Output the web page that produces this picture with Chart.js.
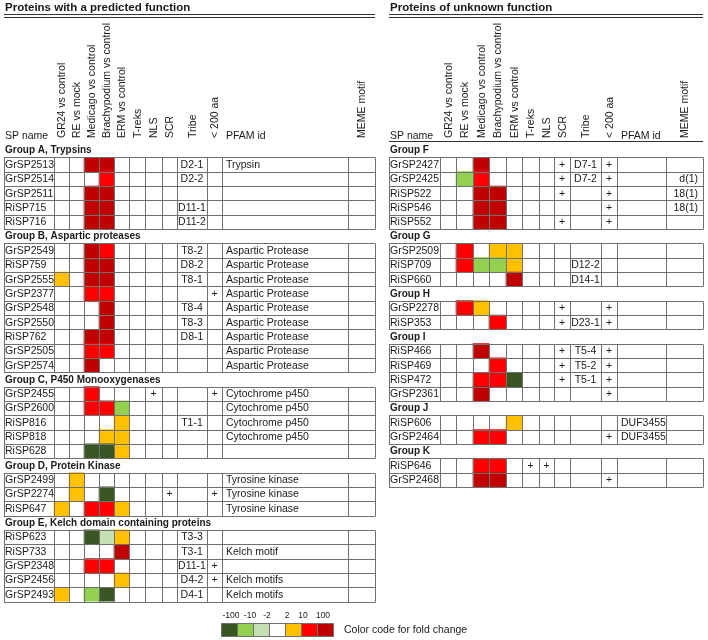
<!DOCTYPE html>
<html>
<head>
<meta charset="utf-8">
<script src="https://cdn.jsdelivr.net/npm/chart.js@4.4.1/dist/chart.umd.min.js"></script>
<style>
    html, body { margin: 0; padding: 0; background: #fff; }
    #wrap { position: relative; width: 708px; height: 640px; }
</style>
</head>
<body>
<div id="wrap"><canvas id="chart" width="708" height="640"></canvas></div>
<script>
// fold change classes: -3 <= -100, -2 = -10..-100, -1 = -2..-10, 0 none, 1 = 2..10, 2 = 10..100, 3 >= 100
const columnLabels = ['GR24 vs control', 'RE vs mock', 'Medicago vs control', 'Brachypodium vs control', 'ERM vs control', 'T-reks', 'NLS', 'SCR', 'Tribe', '< 200 aa'];
const legendLabels = ['-100', '-10', '-2', '2', '10', '100'];
const legendClasses = [-3, -2, -1, 0, 1, 2, 3];

// left table: proteins with a predicted function
const leftGroups = ['Group A, Trypsins', 'Group B, Aspartic proteases', 'Group C, P450 Monooxygenases', 'Group D, Protein Kinase', 'Group E, Kelch domain containing proteins'];
const leftGroupSizes = [5, 9, 5, 3, 5];
const leftNames = ['GrSP2513', 'GrSP2514', 'GrSP2511', 'RiSP715', 'RiSP716',
    'GrSP2549', 'RiSP759', 'GrSP2555', 'GrSP2377', 'GrSP2548', 'GrSP2550', 'RiSP762', 'GrSP2505', 'GrSP2574',
    'GrSP2455', 'GrSP2600', 'RiSP816', 'RiSP818', 'RiSP628',
    'GrSP2499', 'GrSP2274', 'RiSP647',
    'RiSP623', 'RiSP733', 'GrSP2348', 'GrSP2456', 'GrSP2493'];
const leftGR24 = [0, 0, 0, 0, 0, 0, 0, 1, 0, 0, 0, 0, 0, 0, 0, 0, 0, 0, 0, 0, 0, 1, 0, 0, 0, 0, 1];
const leftRE = [0, 0, 0, 0, 0, 0, 0, 0, 0, 0, 0, 0, 0, 0, 0, 0, 0, 0, 0, 1, 1, 0, 0, 0, 0, 0, 0];
const leftMedicago = [3, 0, 3, 3, 3, 3, 3, 3, 2, 0, 0, 3, 2, 3, 2, 2, 0, 0, -3, 0, 0, 2, -3, 0, 2, 0, -2];
const leftBrachy = [3, 2, 3, 3, 3, 2, 3, 3, 2, 3, 3, 3, 2, 0, 0, 2, 0, 1, -3, 0, -3, 2, -1, 0, 2, 0, -3];
const leftERM = [0, 0, 0, 0, 0, 0, 0, 0, 0, 0, 0, 0, 0, 0, 0, -2, 1, 1, 1, 0, 0, 1, 1, 3, 0, 1, 0];
const leftTreks = [0, 0, 0, 0, 0, 0, 0, 0, 0, 0, 0, 0, 0, 0, 0, 0, 0, 0, 0, 0, 0, 0, 0, 0, 0, 0, 0];
const leftNLS = [0, 0, 0, 0, 0, 0, 0, 0, 0, 0, 0, 0, 0, 0, 1, 0, 0, 0, 0, 0, 0, 0, 0, 0, 0, 0, 0];
const leftSCR = [0, 0, 0, 0, 0, 0, 0, 0, 0, 0, 0, 0, 0, 0, 0, 0, 0, 0, 0, 0, 1, 0, 0, 0, 0, 0, 0];
const leftShort = [0, 0, 0, 0, 0, 0, 0, 0, 1, 0, 0, 0, 0, 0, 1, 0, 0, 0, 0, 0, 1, 0, 0, 0, 1, 1, 0];
const leftTribe = ['D2-1', 'D2-2', '', 'D11-1', 'D11-2', 'T8-2', 'D8-2', 'T8-1', '', 'T8-4', 'T8-3', 'D8-1', '', '',
    '', '', 'T1-1', '', '', '', '', '', 'T3-3', 'T3-1', 'D11-1', 'D4-2', 'D4-1'];
const leftPfam = ['Trypsin', '', '', '', '',
    'Aspartic Protease', 'Aspartic Protease', 'Aspartic Protease', 'Aspartic Protease', 'Aspartic Protease',
    'Aspartic Protease', 'Aspartic Protease', 'Aspartic Protease', 'Aspartic Protease',
    'Cytochrome p450', 'Cytochrome p450', 'Cytochrome p450', 'Cytochrome p450', '',
    'Tyrosine kinase', 'Tyrosine kinase', 'Tyrosine kinase',
    '', 'Kelch motif', '', 'Kelch motifs', 'Kelch motifs'];
const leftMeme = [];

// right table: proteins of unknown function
const rightGroups = ['Group F', 'Group G', 'Group H', 'Group I', 'Group J', 'Group K'];
const rightGroupSizes = [5, 3, 2, 4, 2, 2];
const rightNames = ['GrSP2427', 'GrSP2425', 'RiSP522', 'RiSP546', 'RiSP552',
    'GrSP2509', 'RiSP709', 'RiSP660', 'GrSP2278', 'RiSP353',
    'RiSP466', 'RiSP469', 'RiSP472', 'GrSP2361', 'RiSP606', 'GrSP2464', 'RiSP646', 'GrSP2468'];
const rightGR24 = [0, 0, 0, 0, 0, 0, 0, 0, 0, 0, 0, 0, 0, 0, 0, 0, 0, 0];
const rightRE = [0, -2, 0, 0, 0, 2, 2, 0, 2, 0, 0, 0, 0, 0, 0, 0, 0, 0];
const rightMedicago = [3, 2, 3, 3, 3, 0, -2, 0, 1, 0, 3, 0, 2, 3, 0, 2, 2, 3];
const rightBrachy = [0, 0, 3, 3, 3, 1, -2, 0, 0, 2, 0, 2, 2, 0, 0, 2, 2, 3];
const rightERM = [0, 0, 0, 0, 0, 1, 1, 3, 0, 0, 0, 0, -3, 0, 1, 0, 0, 0];
const rightTreks = [0, 0, 0, 0, 0, 0, 0, 0, 0, 0, 0, 0, 0, 0, 0, 0, 1, 0];
const rightNLS = [0, 0, 0, 0, 0, 0, 0, 0, 0, 0, 0, 0, 0, 0, 0, 0, 1, 0];
const rightSCR = [1, 1, 1, 0, 1, 0, 0, 0, 1, 1, 1, 1, 1, 0, 0, 0, 0, 0];
const rightShort = [1, 1, 1, 1, 1, 0, 0, 0, 1, 1, 1, 1, 1, 1, 0, 1, 0, 1];
const rightTribe = ['D7-1', 'D7-2', '', '', '', '', 'D12-2', 'D14-1', '', 'D23-1', 'T5-4', 'T5-2', 'T5-1', '', '', '', '', ''];
const rightPfam = ['', '', '', '', '', '', '', '', '', '', '', '', '', '', 'DUF3455', 'DUF3455', '', ''];
const rightMeme = ['', 'd(1)', '18(1)', '18(1)', '', '', '', '', '', '', '', '', '', '', '', '', '', ''];

// layout
const FC_COLORS = { '-3': '#385723', '-2': '#92d050', '-1': '#c6e0b4', '0': '#ffffff', '1': '#ffc000', '2': '#ff0000', '3': '#c00000' };
const LEFT_EDGES = [4, 54, 69, 84, 99, 114, 129, 145, 162, 177, 207, 222, 348, 375];
const RIGHT_EDGES = [389, 440, 456, 473, 489, 506, 522, 539, 554, 570, 601, 617, 666, 703];
const ROW_TOP = 143;
const ROW_H = 14.33;
const N_ROWS = 32;
const FONT = '"Liberation Sans", Arial, sans-serif';
const LINE = '#707070';
const TEXT = '#1a1a1a';

function buildRows(groups, sizes) {
    const rows = [];
    let p = 0;
    groups.forEach((g, gi) => {
        rows.push({ group: g });
        for (let i = 0; i < sizes[gi]; i++) rows.push({ protein: p++ });
    });
    return rows;
}

const tables = [
    {
        title: 'Proteins with a predicted function', headerLine: false, edges: LEFT_EDGES,
        rows: buildRows(leftGroups, leftGroupSizes), names: leftNames,
        fc: [leftGR24, leftRE, leftMedicago, leftBrachy, leftERM],
        flags: [leftTreks, leftNLS, leftSCR], short: leftShort,
        tribe: leftTribe, pfam: leftPfam, meme: leftMeme
    },
    {
        title: 'Proteins of unknown function', headerLine: true, edges: RIGHT_EDGES,
        rows: buildRows(rightGroups, rightGroupSizes), names: rightNames,
        fc: [rightGR24, rightRE, rightMedicago, rightBrachy, rightERM],
        flags: [rightTreks, rightNLS, rightSCR], short: rightShort,
        tribe: rightTribe, pfam: rightPfam, meme: rightMeme
    }
];

const datasets = [];
tables.forEach(t => {
    t.fc.forEach((vals, k) => {
        const data = [], colors = [];
        for (let r = 0; r < N_ROWS; r++) {
            const row = t.rows[r];
            const v = row && row.protein !== undefined ? vals[row.protein] : 0;
            data.push(v ? [t.edges[k + 1], t.edges[k + 2]] : null);
            colors.push(FC_COLORS[v]);
        }
        datasets.push({ data, backgroundColor: colors, borderWidth: 0, categoryPercentage: 1, barPercentage: 1, grouped: false });
    });
});

const crisp = v => Math.round(v) + 0.5;

function hline(ctx, x0, x1, yy) {
    ctx.beginPath(); ctx.moveTo(x0, crisp(yy)); ctx.lineTo(x1, crisp(yy)); ctx.stroke();
}
function vline(ctx, xx, y0, y1) {
    ctx.beginPath(); ctx.moveTo(crisp(xx), y0); ctx.lineTo(crisp(xx), y1); ctx.stroke();
}

const tablePlugin = {
    id: 'tableText',
    afterDatasetsDraw(chart) {
        const { ctx, scales: { x, y } } = chart;
        const h = y.getPixelForValue(1) - y.getPixelForValue(0);
        const px = v => x.getPixelForValue(v);
        ctx.save();
        ctx.fillStyle = TEXT;
        ctx.strokeStyle = LINE;
        ctx.lineWidth = 1;

        tables.forEach(t => {
            const e = t.edges;
            const left = px(e[0]), right = px(e[e.length - 1]);
            const cx = c => (px(e[c]) + px(e[c + 1])) / 2;

            // title and double rule
            ctx.font = 'bold 11.5px ' + FONT;
            ctx.textAlign = 'left';
            ctx.textBaseline = 'alphabetic';
            ctx.fillText(t.title, left + 1, 11);
            ctx.strokeStyle = '#333';
            hline(ctx, left, right, 14);
            hline(ctx, left, right, 17);
            ctx.strokeStyle = LINE;

            // column headers
            ctx.font = '10.5px ' + FONT;
            ctx.fillText('SP name', left + 1, 139);
            ctx.fillText('PFAM id', px(e[11]) + 4, 139);
            const rotated = columnLabels.map((l, i) => [l, i + 1]).concat([['MEME motif', 12]]);
            rotated.forEach(([label, c]) => {
                ctx.save();
                ctx.translate(cx(c) + 1, 138);
                ctx.rotate(-Math.PI / 2);
                ctx.textBaseline = 'middle';
                ctx.fillText(label, 0, 0);
                ctx.restore();
            });
            if (t.headerLine) {
                ctx.strokeStyle = '#333';
                hline(ctx, left, right, 141);
                ctx.strokeStyle = LINE;
            }

            // rows
            let blockStart = -1;
            const drawBlock = (r0, r1) => {
                const top = y.getPixelForValue(r0) - h / 2;
                const bottom = y.getPixelForValue(r1 - 1) + h / 2;
                for (let r = r0; r <= r1; r++) hline(ctx, left, right, top + (r - r0) * h);
                e.forEach(v => vline(ctx, px(v), crisp(top), crisp(bottom)));
            };
            t.rows.forEach((row, r) => {
                const yc = y.getPixelForValue(r) + 0.5;
                ctx.textBaseline = 'middle';
                if (row.group !== undefined) {
                    if (blockStart >= 0) { drawBlock(blockStart, r); blockStart = -1; }
                    ctx.font = 'bold 10px ' + FONT;
                    ctx.textAlign = 'left';
                    ctx.fillText(row.group, left + 1, yc);
                    return;
                }
                if (blockStart < 0) blockStart = r;
                const p = row.protein;
                ctx.font = '10.5px ' + FONT;
                ctx.textAlign = 'left';
                ctx.fillText(t.names[p], left + 1, yc);
                ctx.textAlign = 'center';
                t.flags.forEach((arr, i) => { if (arr[p]) ctx.fillText('+', cx(6 + i), yc); });
                if (t.short[p]) ctx.fillText('+', cx(10), yc);
                if (t.tribe[p]) ctx.fillText(t.tribe[p], cx(9), yc);
                ctx.textAlign = 'left';
                if (t.pfam[p]) ctx.fillText(t.pfam[p], px(e[11]) + 4, yc);
                ctx.textAlign = 'right';
                if (t.meme[p]) ctx.fillText(t.meme[p], px(e[13]) - 5, yc);
            });
            if (blockStart >= 0) drawBlock(blockStart, t.rows.length);
        });

        // colour key
        const kx = 221, kw = 16, ky = 623, kh = 13;
        legendClasses.forEach((c, i) => {
            ctx.fillStyle = FC_COLORS[c];
            ctx.fillRect(kx + i * kw, ky, kw, kh);
            ctx.strokeRect(kx + i * kw + 0.5, ky + 0.5, kw, kh);
        });
        const labelX = [231, 250, 267, 287, 303, 323];
        ctx.fillStyle = TEXT;
        ctx.font = '8.5px ' + FONT;
        ctx.textAlign = 'center';
        ctx.textBaseline = 'middle';
        legendLabels.forEach((l, i) => ctx.fillText(l, labelX[i], 616));
        ctx.font = '10.5px ' + FONT;
        ctx.textAlign = 'left';
        ctx.fillText('Color code for fold change', 344, 630);
        ctx.restore();
    }
};

new Chart(document.getElementById('chart'), {
    type: 'bar',
    data: { labels: Array.from({ length: N_ROWS }, (_, i) => String(i)), datasets },
    options: {
        indexAxis: 'y',
        responsive: false,
        animation: false,
        layout: { padding: { left: 0, right: 0, top: ROW_TOP, bottom: 640 - ROW_TOP - N_ROWS * ROW_H } },
        scales: {
            x: { type: 'linear', min: 0, max: 708, display: false },
            y: { type: 'category', display: false, offset: true }
        },
        plugins: { legend: { display: false }, tooltip: { enabled: false } }
    },
    plugins: [tablePlugin]
});
</script>
</body>
</html>
